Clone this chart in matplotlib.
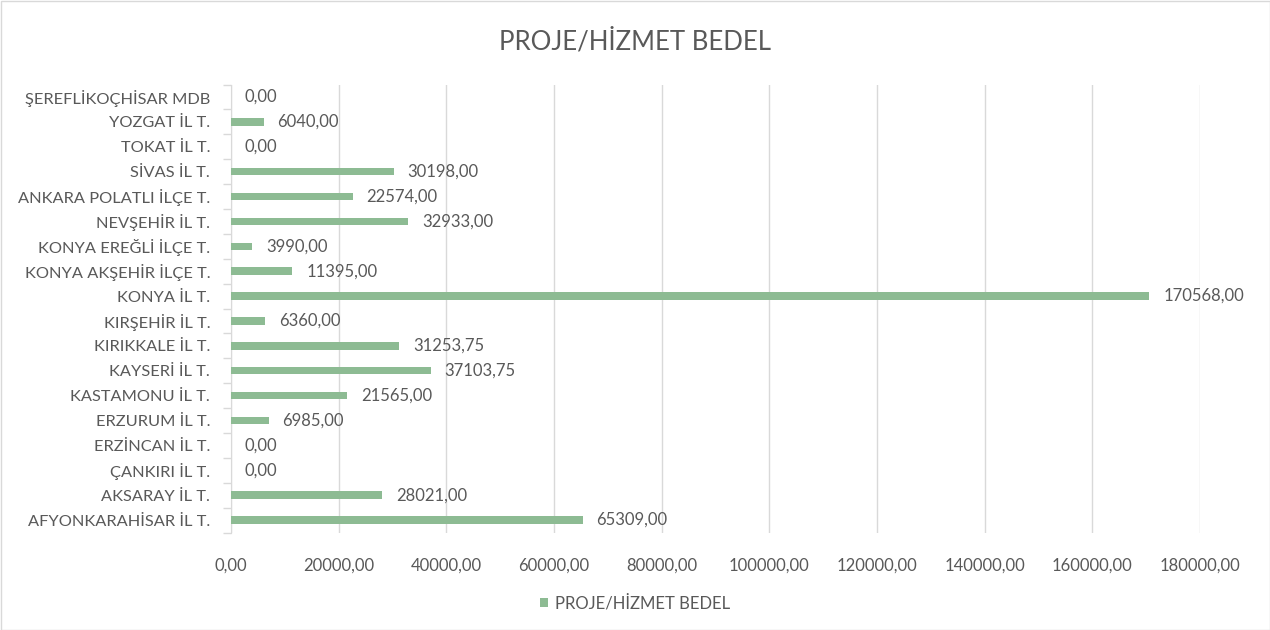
import matplotlib
matplotlib.use("Agg")
import matplotlib.pyplot as plt
import numpy as np
from matplotlib.patches import Rectangle

categories = ["AFYONKARAHİSAR İL T.", "AKSARAY İL T.", "ÇANKIRI İL T.", "ERZİNCAN İL T.",
              "ERZURUM İL T.", "KASTAMONU İL T.", "KAYSERİ İL T.", "KIRIKKALE İL T.",
              "KIRŞEHİR İL T.", "KONYA İL T.", "KONYA AKŞEHİR İLÇE T.", "KONYA EREĞLİ İLÇE T.",
              "NEVŞEHİR İL T.", "ANKARA POLATLI İLÇE T.", "SİVAS İL T.", "TOKAT İL T.",
              "YOZGAT İL T.", "ŞEREFLİKOÇHİSAR MDB"]
values = [65309, 28021, 0, 0, 6985, 21565, 37103.75, 31253.75, 6360, 170568,
          11395, 3990, 32933, 22574, 30198, 0, 6040, 0]
xticks = [0, 20000, 40000, 60000, 80000, 100000, 120000, 140000, 160000, 180000]
series_name = "PROJE/HİZMET BEDEL"
title = "PROJE/HİZMET BEDEL"

plt.rcParams['font.family'] = ['Lato', 'DejaVu Sans']
TXT = "#595959"
BAR = "#8DBB93"
GRID = "#D9D9D9"

fig = plt.figure(figsize=(12.7, 6.3), dpi=100)
fig.patches.append(Rectangle((0.5/1270, 0.5/630), 1 - 1/1270, 1 - 1/630, transform=fig.transFigure,
                             fill=False, edgecolor=GRID, linewidth=1))
ax = fig.add_axes([231/1270, 1 - 532.5/630, (1200 - 231)/1270, (532.5 - 84.5)/630])

y = np.arange(len(categories))
ax.barh(y, values, height=0.3, color=BAR, label=series_name, zorder=3)
ax.set_xlim(0, 180000)
ax.set_ylim(-0.5, len(categories) - 0.5)

def fmt(v):
    return f"{v:.2f}".replace(".", ",")

for yi, v in zip(y, values):
    ax.annotate(fmt(v), (v, yi), xytext=(10, 0), textcoords="offset points",
                ha="left", va="center", fontsize=12, color=TXT)

ax.set_xticks(xticks)
ax.set_xticklabels([fmt(t) for t in xticks], fontsize=12, color=TXT)
ax.set_yticks(y)
ax.set_yticklabels(categories, fontsize=11.8, color=TXT)
ax.set_yticks(np.arange(-0.5, len(categories), 1), minor=True)
ax.tick_params(axis="y", which="major", length=0, pad=15)
ax.tick_params(axis="y", which="minor", length=6, color=GRID, width=1)
ax.tick_params(axis="x", length=0, pad=18)
ax.grid(axis="x", color=GRID, linewidth=1, zorder=0)
for s in ["top", "right", "bottom"]:
    ax.spines[s].set_visible(False)
ax.spines["left"].set_color(GRID)

fig.text(0.5, 1 - 42/630, title, ha="center", va="center", fontsize=18.5, color=TXT)
fig.legend(loc="center", bbox_to_anchor=(0.5, 1 - 603/630), frameon=False, fontsize=12,
           labelcolor=TXT, handlelength=0.5, handleheight=0.5, handletextpad=0.4)

fig.savefig("out.png", dpi=100)
